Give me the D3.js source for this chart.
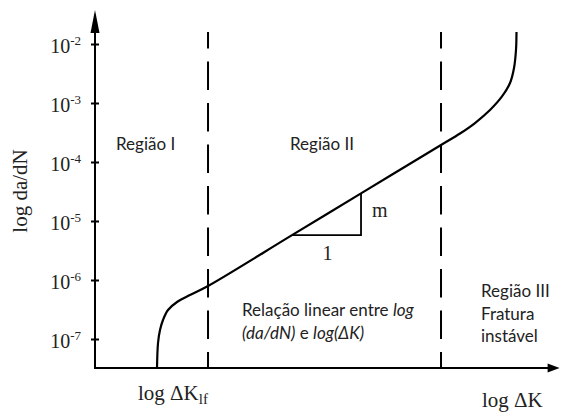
<!DOCTYPE html>
<html><head><meta charset="utf-8">
<script src="https://cdn.jsdelivr.net/npm/d3@7"></script>
<style>body{margin:0;background:#fff}</style>
</head><body>
<svg id="c" width="561" height="412"></svg>
<script>
// Curve data: x = log ΔK (arbitrary units), y = da/dN
const logDK = [1.348,1.370,1.413,1.478,1.587,1.783,2.065,2.457,4.283,5.783,7.522,7.935,8.261,8.587,8.848,9.022,9.109,9.152,9.163];
const dadN  = [3.22e-8,8.55e-8,1.42e-7,2.10e-7,3.10e-7,4.24e-7,5.57e-7,7.91e-7,5.75e-6,2.94e-5,1.94e-4,3.04e-4,4.58e-4,7.60e-4,1.29e-3,2.18e-3,3.92e-3,7.91e-3,1.60e-2];
const yTicks = [1e-2,1e-3,1e-4,1e-5,1e-6,1e-7];
const tickExp = ["-2","-3","-4","-5","-6","-7"];
const regionBounds = [2.457, 7.522];
const triX = [4.283, 5.783];
const triY = [5.75e-6, 2.94e-5];
const xAxisMax = 10.1, yAxisTop = 3.77e-2, yAxisBottom = 3.22e-8, dashTop = 1.6e-2;

const svg = d3.select("#c");
const x = d3.scaleLinear().domain([0,10]).range([95,555]);
const y = d3.scaleLog().domain([1e-7,1e-2]).range([339,44]);
const serif = "'Liberation Serif','Times New Roman',serif";
const sans = "Lato, 'Open Sans', sans-serif";

// dashed region boundaries
svg.selectAll(".dash").data(regionBounds).enter().append("line")
  .attr("x1", d=>x(d)).attr("x2", d=>x(d))
  .attr("y1", y(dashTop)).attr("y2", y(yAxisBottom))
  .attr("stroke","#000").attr("stroke-width",2)
  .attr("stroke-dasharray","28.5,13").attr("stroke-dashoffset",12);

// Y axis
const yAxis = d3.axisLeft(y).tickValues(yTicks).tickSize(4).tickFormat("");
const gy = svg.append("g").attr("transform",`translate(${x(0)},0)`).call(yAxis);
gy.select(".domain").remove();
gy.selectAll(".tick line").attr("x1",4).attr("x2",-4).attr("stroke","#000").attr("stroke-width",2);
svg.append("line").attr("x1",x(0)).attr("x2",x(0))
  .attr("y1",y(yAxisBottom)+1).attr("y2",y(yAxisTop)+10)
  .attr("stroke","#000").attr("stroke-width",2);
svg.append("path")
  .attr("d",`M${x(0)},${y(yAxisTop)} L${x(0)-4.5},${y(yAxisTop)+23} L${x(0)+4.5},${y(yAxisTop)+23} Z`)
  .attr("fill","#000");
yTicks.forEach((t,i)=>{
  const tx = svg.append("text").attr("x",81).attr("y",y(t)+9)
    .attr("text-anchor","end").attr("font-family",serif).attr("font-size",20).attr("fill","#222");
  tx.append("tspan").text("10");
  tx.append("tspan").attr("dy",-8).attr("font-size",13).text(tickExp[i]);
});

// X axis
svg.append("line").attr("x1",x(0)-1).attr("x2",x(xAxisMax)-10)
  .attr("y1",y(yAxisBottom)).attr("y2",y(yAxisBottom))
  .attr("stroke","#000").attr("stroke-width",2);
svg.append("path")
  .attr("d",`M${x(xAxisMax)},${y(yAxisBottom)} L${x(xAxisMax)-12},${y(yAxisBottom)-4.5} L${x(xAxisMax)-12},${y(yAxisBottom)+4.5} Z`)
  .attr("fill","#000");

// curve
const pts = logDK.map((d,i)=>[d,dadN[i]]);
svg.append("path").datum(pts)
  .attr("d", d3.line().x(d=>x(d[0])).y(d=>y(d[1])).curve(d3.curveCatmullRom.alpha(0.5)))
  .attr("fill","none").attr("stroke","#000").attr("stroke-width",2.2);

// slope triangle
svg.append("path")
  .attr("d",`M${x(triX[0])},${y(triY[0])} H${x(triX[1])} V${y(triY[1])}`)
  .attr("fill","none").attr("stroke","#000").attr("stroke-width",1.8);
svg.append("text").attr("x",x(triX[1])+11).attr("y",217).attr("font-family",serif).attr("font-size",20).attr("fill","#222").text("m");
svg.append("text").attr("x",(x(triX[0])+x(triX[1]))/2+1).attr("y",260).attr("text-anchor","middle").attr("font-family",serif).attr("font-size",20).attr("fill","#222").text("1");

// axis titles
svg.append("text").attr("transform","translate(27,191) rotate(-90)").attr("text-anchor","middle")
  .attr("font-family",serif).attr("font-size",21).attr("fill","#222").text("log da/dN");
const xl1 = svg.append("text").attr("x",138).attr("y",400).attr("font-family",serif).attr("font-size",21).attr("fill","#222");
xl1.append("tspan").text("log ΔK");
xl1.append("tspan").attr("dy",4).attr("font-size",15).text("lf");
svg.append("text").attr("x",482).attr("y",407).attr("font-family",serif).attr("font-size",21).attr("fill","#222").text("log ΔK");

// region labels
function label(xp, yp, lines){
  lines.forEach((ln,i)=>{
    const t = svg.append("text").attr("x",xp).attr("y",yp[i]).attr("font-family",sans).attr("font-size",17).attr("fill","#222");
    ln.forEach(s=>t.append("tspan").attr("font-style",s[1]?"italic":"normal").text(s[0]));
  });
}
label(116,[150],[[["Região I"]]]);
label(290,[150],[[["Região II"]]]);
label(242,[316,339],[[["Relação linear entre "],["log",1]],[["(da/dN)",1],[" e "],["log(ΔK)",1]]]);
label(481,[297,320,342],[[["Região III"]],[["Fratura"]],[["instável"]]]);
</script>
</body></html>
